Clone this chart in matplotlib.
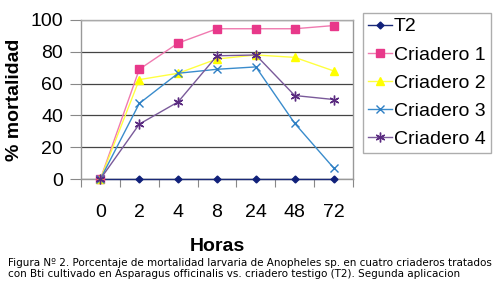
import matplotlib
matplotlib.use("Agg")
import matplotlib.pyplot as plt
import numpy as np

hours = ["0", "2", "4", "8", "24", "48", "72"]
t2 = [0, 0, 0, 0, 0, 0, 0]
criadero1 = [0, 69, 85.5, 94.5, 94.5, 94.5, 96.5]
criadero2 = [0, 62.5, 66.5, 75.5, 78, 76.5, 68]
criadero3 = [0, 47.5, 66.5, 69, 70.5, 35, 7]
criadero4 = [0, 34.5, 48.5, 77.5, 78, 52.5, 50]
series_names = ["T2", "Criadero 1", "Criadero 2", "Criadero 3", "Criadero 4"]
yticks = [0, 20, 40, 60, 80, 100]
caption = ("Figura Nº 2. Porcentaje de mortalidad larvaria de Anopheles sp. en cuatro criaderos tratados\n"
           "con Bti cultivado en Asparagus officinalis vs. criadero testigo (T2). Segunda aplicacion")

plt.rcParams['font.family'] = ['Liberation Sans', 'DejaVu Sans']

W, H = 500, 287
fig = plt.figure(figsize=(W / 100, H / 100), dpi=100)
fig.patch.set_facecolor('white')
ax = fig.add_axes([81 / W, 1 - 179 / H, (353 - 81) / W, (179 - 20) / H])

x = np.arange(len(hours))
styles = [
    dict(color='#1a2a78', marker='D', ms=3.5, mfc='#10207a', mec='#10207a', lw=1.0),
    dict(color='#f07ab0', marker='s', ms=5.5, mfc='#e8388a', mec='#e8388a', lw=1.0),
    dict(color='#ffff40', marker='^', ms=6, mfc='#ffff00', mec='#ffff00', lw=1.0),
    dict(color='#3a8ccc', marker='x', ms=6, mfc='#2e7fc4', mec='#2e7fc4', mew=1.0, lw=1.0),
    dict(color='#7a5a9a', marker=(6, 2, 0), ms=7, mfc='#5a2a80', mec='#5a2a80', mew=1.0, lw=1.0),
]
data = [t2, criadero1, criadero2, criadero3, criadero4]
for name, vals, st in zip(series_names, data, styles):
    ax.plot(x, vals, label=name, clip_on=False, zorder=3, **st)

ax.set_xlim(-0.5, len(hours) - 0.5)
ax.set_ylim(0, 100)
ax.set_yticks(yticks)
ax.set_yticklabels([str(v) for v in yticks], fontsize=14)
ax.set_xticks(np.arange(-0.5, len(hours), 1.0))
ax.set_xticklabels([])
ax.set_xticks(x, minor=True)
ax.set_xticklabels(hours, minor=True, fontsize=14)
ax.tick_params(axis='x', which='major', length=6, color='#888888', direction='out')
ax.tick_params(axis='x', which='minor', length=0, pad=18)
ax.tick_params(axis='y', length=8, color='#888888', pad=5)

ax.yaxis.grid(True, color='#444444', lw=0.9)
ax.set_axisbelow(True)
for s in ['left', 'bottom', 'right']:
    ax.spines[s].set_color('#999999')
    ax.spines[s].set_linewidth(1.0)
ax.spines['top'].set_color('#aaaaaa')
ax.spines['top'].set_linewidth(1.0)

ax.set_ylabel('% mortalidad', fontsize=14, fontweight='bold', labelpad=5)
ax.set_xlabel('Horas', fontsize=14, fontweight='bold', labelpad=12)

leg = ax.legend(loc='upper left', bbox_to_anchor=(363 / W, 1 - 13 / H),
                bbox_transform=fig.transFigure, fontsize=14, frameon=True,
                fancybox=False, edgecolor='#999999', borderaxespad=0,
                handlelength=1.25, handletextpad=0.1, labelspacing=0.54,
                borderpad=0.25)
leg.get_frame().set_linewidth(1.0)

fig.text(8 / W, 1 - 258 / H, caption, fontsize=7.45, family='DejaVu Sans',
         va='top', ha='left', linespacing=1.15)

fig.savefig('out.png', dpi=100, facecolor='white')
